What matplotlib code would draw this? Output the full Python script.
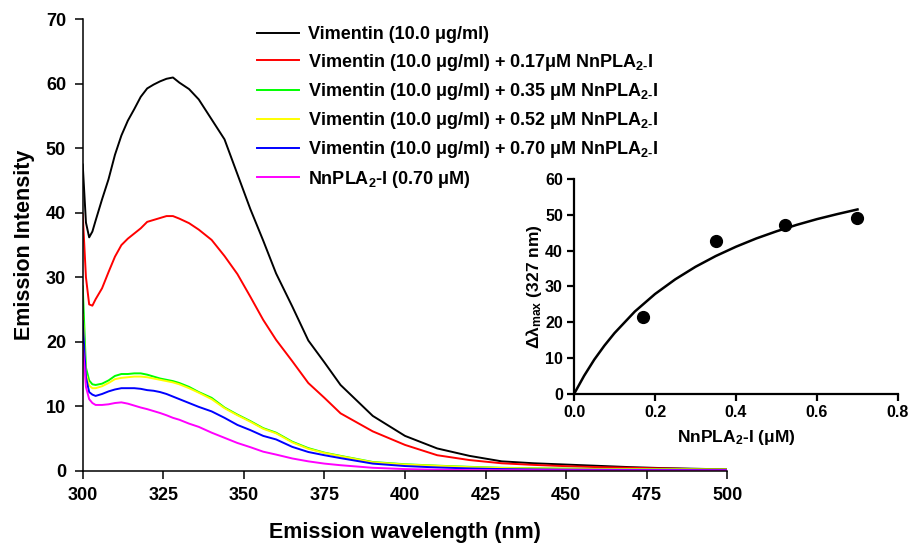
import numpy as np
import matplotlib
matplotlib.use('Agg')
import matplotlib.pyplot as plt

plt.rcParams['font.family'] = ['Liberation Sans', 'DejaVu Sans']
plt.rcParams['font.weight'] = 'bold'
plt.rcParams['mathtext.fontset'] = 'custom'
plt.rcParams['mathtext.rm'] = 'Liberation Sans:bold'
plt.rcParams['mathtext.bf'] = 'Liberation Sans:bold'
plt.rcParams['mathtext.it'] = 'Liberation Sans:bold'
plt.rcParams['mathtext.default'] = 'rm'

# --- emission spectra ---
wl = [300, 301, 302, 303, 304, 306, 308, 310, 312, 314, 316, 318, 320, 322, 324, 326, 328, 330,
      333, 336, 340, 344, 348, 352, 356, 360, 365, 370, 375, 380, 390, 400, 410, 420, 430, 440,
      450, 460, 470, 480, 490, 500]

vim = [47.5, 38.5, 36.2, 37.1, 38.8, 42.1, 45.2, 49.0, 52.0, 54.3, 56.1, 58.0, 59.3, 59.9, 60.4,
       60.8, 61.0, 60.2, 59.2, 57.6, 54.5, 51.4, 46.0, 40.6, 35.7, 30.6, 25.5, 20.2, 16.8, 13.3,
       8.5, 5.4, 3.45, 2.3, 1.45, 1.15, 0.95, 0.75, 0.55, 0.4, 0.3, 0.2]
vim_017 = [39.8, 30.0, 25.8, 25.6, 26.6, 28.3, 30.8, 33.2, 35.0, 36.0, 36.8, 37.6, 38.6, 38.9,
           39.2, 39.5, 39.5, 39.1, 38.4, 37.4, 35.8, 33.3, 30.5, 27.0, 23.4, 20.3, 17.0, 13.6,
           11.3, 8.9, 6.1, 4.0, 2.4, 1.65, 1.15, 0.9, 0.7, 0.55, 0.45, 0.35, 0.25, 0.2]
vim_035 = [28.6, 16.0, 14.0, 13.4, 13.3, 13.5, 14.0, 14.7, 15.0, 15.0, 15.1, 15.1, 14.9, 14.6,
           14.3, 14.1, 13.9, 13.6, 13.0, 12.2, 11.3, 9.8, 8.7, 7.7, 6.6, 5.9, 4.5, 3.5, 2.8, 2.3,
           1.35, 1.0, 0.78, 0.6, 0.45, 0.38, 0.32, 0.28, 0.25, 0.22, 0.2, 0.18]
vim_052 = [24.2, 15.0, 13.2, 12.8, 12.8, 13.1, 13.6, 14.2, 14.4, 14.5, 14.6, 14.6, 14.5, 14.3,
           14.1, 13.9, 13.7, 13.4, 12.8, 12.1, 11.1, 9.7, 8.6, 7.6, 6.5, 5.8, 4.4, 3.4, 2.75, 2.25,
           1.3, 0.95, 0.75, 0.55, 0.42, 0.35, 0.3, 0.26, 0.23, 0.2, 0.18, 0.16]
vim_070 = [23.2, 14.5, 12.2, 11.8, 11.6, 11.9, 12.3, 12.6, 12.8, 12.8, 12.8, 12.7, 12.5, 12.4,
           12.2, 11.9, 11.5, 11.1, 10.5, 9.9, 9.2, 8.2, 7.1, 6.3, 5.4, 4.85, 3.7, 2.9, 2.4, 1.95,
           1.1, 0.72, 0.5, 0.35, 0.25, 0.2, 0.17, 0.15, 0.13, 0.12, 0.11, 0.1]
pla = [19.5, 13.0, 11.1, 10.5, 10.2, 10.2, 10.3, 10.5, 10.6, 10.4, 10.1, 9.8, 9.55, 9.25, 8.95,
       8.6, 8.2, 7.9, 7.3, 6.8, 5.9, 5.1, 4.3, 3.65, 2.95, 2.5, 1.9, 1.45, 1.1, 0.85, 0.45, 0.25,
       0.15, 0.1, 0.08, 0.07, 0.06, 0.05, 0.05, 0.05, 0.05, 0.05]

series = [vim, vim_017, vim_035, vim_052, vim_070, pla]
colors = ['black', '#ff0000', '#00ff00', '#ffff00', '#0000ff', '#ff00ff']
labels = [r'Vimentin (10.0 μg/ml)',
          r'Vimentin (10.0 μg/ml) + 0.17μM NnPLA$_{2\text{-}}$I',
          r'Vimentin (10.0 μg/ml) + 0.35 μM NnPLA$_{2\text{-}}$I',
          r'Vimentin (10.0 μg/ml) + 0.52 μM NnPLA$_{2\text{-}}$I',
          r'Vimentin (10.0 μg/ml) + 0.70 μM NnPLA$_{2\text{-}}$I',
          r'NnPLA$_2$-I (0.70 μM)']

# --- inset: binding data + fitted curve ---
conc = [0.17, 0.35, 0.52, 0.70]
dlam = [21.5, 42.8, 47.2, 49.1]
fit_x = [0, 0.025, 0.05, 0.075, 0.1, 0.15, 0.2, 0.25, 0.3, 0.35, 0.4, 0.45, 0.5, 0.55, 0.6,
         0.65, 0.7]
fit_y = [0, 5.1, 9.6, 13.5, 17.0, 23.0, 27.9, 32.0, 35.5, 38.5, 41.1, 43.4, 45.4, 47.2, 48.8,
         50.2, 51.5]

fig = plt.figure(figsize=(9.1, 5.47), dpi=100)
ax = fig.add_axes([0.0909, 0.1395, 0.7083, 0.8249])

lines = []
for y, c, lab in zip(series, colors, labels):
    l, = ax.plot(wl, y, color=c, lw=1.4, label=lab)
    lines.append(l)

ax.set_xlim(300, 500)
ax.set_ylim(0, 70)
ax.set_xticks(np.arange(300, 501, 25))
ax.set_yticks(np.arange(0, 71, 10))
ax.spines['top'].set_visible(False)
ax.spines['right'].set_visible(False)
ax.spines['left'].set_linewidth(1.1)
ax.spines['bottom'].set_linewidth(1.1)
ax.tick_params(labelsize=13, width=1.1, length=6, pad=6)
ax.set_xlabel('Emission wavelength (nm)', fontsize=15.5, fontweight='bold', labelpad=13)
ax.set_ylabel('Emission Intensity', fontsize=15.5, fontweight='bold', labelpad=8)

fig.legend(handles=lines, loc='upper left', bbox_to_anchor=(0.2824, 0.952), frameon=False,
           fontsize=13, handlelength=2.3, handletextpad=0.5, labelspacing=0.46,
           borderpad=0, borderaxespad=0)

# inset
ins = fig.add_axes([0.6308, 0.2797, 0.356, 0.3931])
ins.patch.set_alpha(0)
ins.plot(fit_x, fit_y, color='black', lw=1.8)
ins.plot(conc, dlam, 'o', color='black', ms=8.5)
ins.set_xlim(0, 0.8)
ins.set_ylim(0, 60)
ins.set_xticks([0.0, 0.2, 0.4, 0.6, 0.8])
ins.set_xticklabels(['0.0', '0.2', '0.4', '0.6', '0.8'])
ins.set_yticks(np.arange(0, 61, 10))
ins.spines['top'].set_visible(False)
ins.spines['right'].set_visible(False)
ins.spines['left'].set_linewidth(1.6)
ins.spines['bottom'].set_linewidth(1.6)
ins.tick_params(labelsize=11.5, width=1.6, length=5, pad=3)
ins.set_xlabel(r'NnPLA$_2$-I (μM)', fontsize=12.5, fontweight='bold', labelpad=6)
ins.set_ylabel(r'Δλ$_{max}$ (327 nm)', fontsize=12.5, fontweight='bold', labelpad=1)

fig.savefig('out.png', dpi=100)
